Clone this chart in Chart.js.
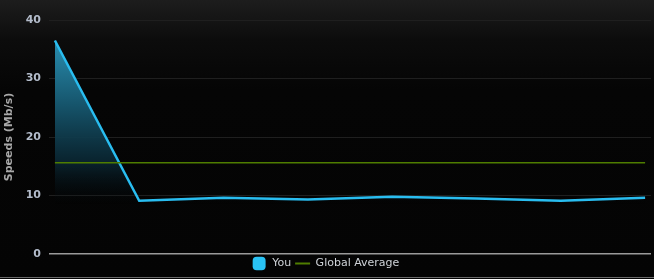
<!DOCTYPE html>
<html>
<head>
<meta charset="utf-8">
<script src="https://cdn.jsdelivr.net/npm/chart.js@4/dist/chart.umd.min.js"></script>
<style>
  html, body { margin: 0; padding: 0; }
  body { width: 654px; height: 279px; background: linear-gradient(to bottom, #1d1d1d 0px, #0c0c0c 40px, #050505 90px, #040404 100%); overflow: hidden; }
  #wrap { position: relative; width: 654px; height: 279px; }
  #rule { position: absolute; left: 0; top: 277px; width: 654px; height: 1px; background: #6a6a6a; }
  canvas { display: block; }
</style>
</head>
<body>
<div id="wrap"><canvas id="c" width="654" height="279"></canvas><div id="rule"></div></div>
<script>
const categories = [0, 1, 2, 3, 4, 5, 6, 7];
const youValues = [36.5, 9.1, 9.6, 9.3, 9.8, 9.5, 9.1, 9.6];
const globalAverage = [15.6, 15.6, 15.6, 15.6, 15.6, 15.6, 15.6, 15.6];
const yTicks = [0, 10, 20, 30, 40];
const seriesNames = ['You', 'Global Average'];

const ctx = document.getElementById('c').getContext('2d');

function fillGradient(context) {
  const chart = context.chart;
  const area = chart.chartArea;
  if (!area) return 'rgba(0,0,0,0)';
  const ys = chart.scales.y;
  const g = chart.ctx.createLinearGradient(0, ys.getPixelForValue(37), 0, ys.getPixelForValue(8.5));
  g.addColorStop(0, 'rgba(42,145,180,1)');
  g.addColorStop(0.4, 'rgba(22,85,108,1)');
  g.addColorStop(0.75, 'rgba(10,38,50,0.9)');
  g.addColorStop(1, 'rgba(5,12,16,0)');
  return g;
}

new Chart(ctx, {
  type: 'line',
  data: {
    datasets: [
      {
        label: seriesNames[0],
        data: categories.map((c, i) => ({ x: c, y: youValues[i] })),
        borderColor: '#29bdf0',
        backgroundColor: fillGradient,
        borderWidth: 2.5,
        pointRadius: 0,
        fill: 'start',
        tension: 0,
        order: 1
      },
      {
        label: seriesNames[1],
        data: categories.map((c, i) => ({ x: c, y: globalAverage[i] })),
        borderColor: '#4f7d00',
        backgroundColor: '#4f7d00',
        borderWidth: 1.5,
        pointRadius: 0,
        fill: false,
        order: 0
      }
    ]
  },
  options: {
    responsive: false,
    animation: false,
    layout: { padding: { top: 20, right: 3, left: 0, bottom: 0 } },
    plugins: {
      tooltip: { enabled: false },
      legend: {
        position: 'bottom',
        labels: {
          color: '#cfd3d8',
          font: { family: 'DejaVu Sans', size: 11 },
          usePointStyle: true,
          boxHeight: 12,
          pointStyleWidth: 15,
          padding: 4,
          sort: (a, b) => a.datasetIndex - b.datasetIndex,
          generateLabels(chart) {
            const items = Chart.defaults.plugins.legend.labels.generateLabels(chart);
            items.forEach(it => {
              if (it.text === seriesNames[0]) {
                it.pointStyle = 'rectRounded';
                it.fillStyle = '#29c3f5';
                it.strokeStyle = '#29c3f5';
                it.lineWidth = 0;
              } else {
                it.pointStyle = 'line';
                it.strokeStyle = '#4f7d00';
                it.lineWidth = 2;
              }
            });
            return items;
          }
        }
      }
    },
    scales: {
      x: {
        type: 'linear',
        min: -0.07,
        max: 7.07,
        display: false
      },
      y: {
        min: 0,
        max: 40,
        afterBuildTicks(scale) { scale.ticks = yTicks.map(v => ({ value: v })); },
        afterFit(scale) { scale.width = 49; },
        border: { display: false },
        grid: {
          color: c => c.tick && c.tick.value === 0 ? '#9a9a9a' : '#1f1f1f',
          lineWidth: c => c.tick && c.tick.value === 0 ? 1.5 : 1,
          drawTicks: false
        },
        ticks: {
          color: '#b3bccb',
          font: { family: 'DejaVu Sans', size: 11, weight: 'bold' },
          padding: 8
        },
        title: {
          display: true,
          text: 'Speeds (Mb/s)',
          color: '#a8a8a8',
          font: { family: 'DejaVu Sans', size: 11, weight: 'bold' },
          padding: { top: 3, bottom: 2 }
        }
      }
    }
  }
});
</script>
</body>
</html>
